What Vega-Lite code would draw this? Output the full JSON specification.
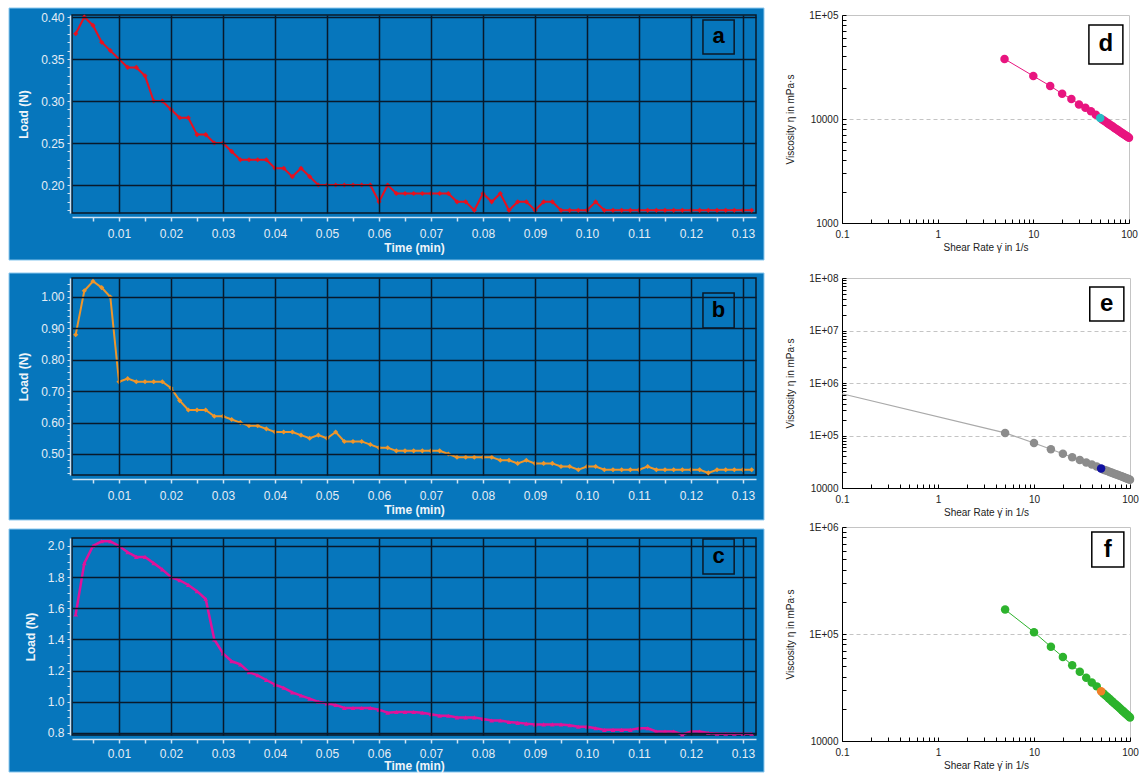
{
"$schema": "https://vega.github.io/schema/vega-lite/v6.json",
"autosize": {"type": "pad"},
"padding": {"left": 8, "top": 7, "right": 0, "bottom": 0},
"background": "white",
"config": {"font": "Liberation Sans", "view": {"stroke": null}, "axis": {"tickCount": 200}},
"datasets": {
"load": [
{"t":0.00167,"a":0.38,"b":0.88,"c":1.56},{"t":0.00333,"a":0.40,"b":1.02,"c":1.89},{"t":0.005,"a":0.39,"b":1.05,"c":2.00},{"t":0.00667,"a":0.37,"b":1.03,"c":2.03},{"t":0.00833,"a":0.36,"b":1.00,"c":2.03},{"t":0.01,"a":0.35,"b":0.73,"c":2.00},{"t":0.01167,"a":0.34,"b":0.74,"c":1.96},{"t":0.01333,"a":0.34,"b":0.73,"c":1.93},{"t":0.015,"a":0.33,"b":0.73,"c":1.93},{"t":0.01667,"a":0.30,"b":0.73,"c":1.89},
{"t":0.01833,"a":0.30,"b":0.73,"c":1.85},{"t":0.02,"a":0.29,"b":0.71,"c":1.80},{"t":0.02167,"a":0.28,"b":0.67,"c":1.78},{"t":0.02333,"a":0.28,"b":0.64,"c":1.75},{"t":0.025,"a":0.26,"b":0.64,"c":1.71},{"t":0.02667,"a":0.26,"b":0.64,"c":1.66},{"t":0.02833,"a":0.25,"b":0.62,"c":1.40},{"t":0.03,"a":0.25,"b":0.62,"c":1.31},{"t":0.03167,"a":0.24,"b":0.61,"c":1.26},{"t":0.03333,"a":0.23,"b":0.60,"c":1.24},
{"t":0.035,"a":0.23,"b":0.59,"c":1.19},{"t":0.03667,"a":0.23,"b":0.59,"c":1.17},{"t":0.03833,"a":0.23,"b":0.58,"c":1.14},{"t":0.04,"a":0.22,"b":0.57,"c":1.11},{"t":0.04167,"a":0.22,"b":0.57,"c":1.09},{"t":0.04333,"a":0.21,"b":0.57,"c":1.06},{"t":0.045,"a":0.22,"b":0.56,"c":1.04},{"t":0.04667,"a":0.21,"b":0.55,"c":1.02},{"t":0.04833,"a":0.20,"b":0.56,"c":1.00},{"t":0.05,"a":0.20,"b":0.55,"c":0.99},
{"t":0.05167,"a":0.20,"b":0.57,"c":0.98},{"t":0.05333,"a":0.20,"b":0.54,"c":0.96},{"t":0.055,"a":0.20,"b":0.54,"c":0.96},{"t":0.05667,"a":0.20,"b":0.54,"c":0.96},{"t":0.05833,"a":0.20,"b":0.53,"c":0.96},{"t":0.06,"a":0.18,"b":0.52,"c":0.95},{"t":0.06167,"a":0.20,"b":0.52,"c":0.93},{"t":0.06333,"a":0.19,"b":0.51,"c":0.935},{"t":0.065,"a":0.19,"b":0.51,"c":0.935},{"t":0.06667,"a":0.19,"b":0.51,"c":0.935},
{"t":0.06833,"a":0.19,"b":0.51,"c":0.93},{"t":0.07,"a":0.19,"b":0.51,"c":0.92},{"t":0.07167,"a":0.19,"b":0.51,"c":0.91},{"t":0.07333,"a":0.19,"b":0.50,"c":0.91},{"t":0.075,"a":0.18,"b":0.49,"c":0.90},{"t":0.07667,"a":0.18,"b":0.49,"c":0.90},{"t":0.07833,"a":0.17,"b":0.49,"c":0.90},{"t":0.08,"a":0.19,"b":0.49,"c":0.89},{"t":0.08167,"a":0.18,"b":0.49,"c":0.88},{"t":0.08333,"a":0.19,"b":0.48,"c":0.88},
{"t":0.085,"a":0.17,"b":0.48,"c":0.87},{"t":0.08667,"a":0.18,"b":0.47,"c":0.865},{"t":0.08833,"a":0.18,"b":0.48,"c":0.86},{"t":0.09,"a":0.17,"b":0.47,"c":0.855},{"t":0.09167,"a":0.18,"b":0.47,"c":0.855},{"t":0.09333,"a":0.18,"b":0.47,"c":0.855},{"t":0.095,"a":0.17,"b":0.46,"c":0.855},{"t":0.09667,"a":0.17,"b":0.46,"c":0.85},{"t":0.09833,"a":0.17,"b":0.45,"c":0.84},{"t":0.1,"a":0.17,"b":0.46,"c":0.84},
{"t":0.10167,"a":0.18,"b":0.46,"c":0.83},{"t":0.10333,"a":0.17,"b":0.45,"c":0.82},{"t":0.105,"a":0.17,"b":0.45,"c":0.82},{"t":0.10667,"a":0.17,"b":0.45,"c":0.82},{"t":0.10833,"a":0.17,"b":0.45,"c":0.82},{"t":0.11,"a":0.17,"b":0.45,"c":0.83},{"t":0.11167,"a":0.17,"b":0.46,"c":0.83},{"t":0.11333,"a":0.17,"b":0.45,"c":0.81},{"t":0.115,"a":0.17,"b":0.45,"c":0.81},{"t":0.11667,"a":0.17,"b":0.45,"c":0.81},
{"t":0.11833,"a":0.17,"b":0.45,"c":0.79},{"t":0.12,"a":0.17,"b":0.45,"c":0.81},{"t":0.12167,"a":0.17,"b":0.45,"c":0.81},{"t":0.12333,"a":0.17,"b":0.44,"c":0.80},{"t":0.125,"a":0.17,"b":0.45,"c":0.795},{"t":0.12667,"a":0.17,"b":0.45,"c":0.795},{"t":0.12833,"a":0.17,"b":0.45,"c":0.795},{"t":0.13,"a":0.17,"b":0.45,"c":0.795},{"t":0.13167,"a":0.17,"b":0.45,"c":0.795}
],
"viscD": [
{"rate":5,"eta":37800,"kind":"pt"},{"rate":10,"eta":25900,"kind":"pt"},{"rate":15,"eta":20800,"kind":"pt"},{"rate":20,"eta":17500,"kind":"pt"},{"rate":25,"eta":15600,"kind":"pt"},{"rate":30,"eta":13800,"kind":"pt"},{"rate":35,"eta":12800,"kind":"pt"},{"rate":40,"eta":11900,"kind":"pt"},{"rate":45,"eta":11000,"kind":"pt"},{"rate":50,"eta":10200,"kind":"hl"},
{"rate":52.5,"eta":9892,"kind":"pt"},{"rate":55,"eta":9607,"kind":"pt"},{"rate":57.5,"eta":9343,"kind":"pt"},{"rate":60,"eta":9096,"kind":"pt"},{"rate":62.5,"eta":8866,"kind":"pt"},{"rate":65,"eta":8651,"kind":"pt"},{"rate":67.5,"eta":8448,"kind":"pt"},{"rate":70,"eta":8257,"kind":"pt"},{"rate":72.5,"eta":8077,"kind":"pt"},{"rate":75,"eta":7907,"kind":"pt"},
{"rate":77.5,"eta":7746,"kind":"pt"},{"rate":80,"eta":7593,"kind":"pt"},{"rate":82.5,"eta":7448,"kind":"pt"},{"rate":85,"eta":7309,"kind":"pt"},{"rate":87.5,"eta":7177,"kind":"pt"},{"rate":90,"eta":7052,"kind":"pt"},{"rate":92.5,"eta":6931,"kind":"pt"},{"rate":95,"eta":6816,"kind":"pt"},{"rate":97.5,"eta":6706,"kind":"pt"},{"rate":100,"eta":6600,"kind":"pt"}
],
"viscE": [
{"rate":0.1,"eta":625000,"kind":"fit"},
{"rate":5,"eta":112000,"kind":"pt"},{"rate":10,"eta":72000,"kind":"pt"},{"rate":15,"eta":54600,"kind":"pt"},{"rate":20,"eta":45000,"kind":"pt"},{"rate":25,"eta":38400,"kind":"pt"},{"rate":30,"eta":34000,"kind":"pt"},{"rate":35,"eta":30600,"kind":"pt"},{"rate":40,"eta":28000,"kind":"pt"},{"rate":45,"eta":25600,"kind":"pt"},{"rate":50,"eta":23400,"kind":"hl"},
{"rate":52.5,"eta":22614,"kind":"pt"},{"rate":55,"eta":21890,"kind":"pt"},{"rate":57.5,"eta":21219,"kind":"pt"},{"rate":60,"eta":20596,"kind":"pt"},{"rate":62.5,"eta":20016,"kind":"pt"},{"rate":65,"eta":19474,"kind":"pt"},{"rate":67.5,"eta":18966,"kind":"pt"},{"rate":70,"eta":18489,"kind":"pt"},{"rate":72.5,"eta":18041,"kind":"pt"},{"rate":75,"eta":17618,"kind":"pt"},
{"rate":77.5,"eta":17218,"kind":"pt"},{"rate":80,"eta":16839,"kind":"pt"},{"rate":82.5,"eta":16480,"kind":"pt"},{"rate":85,"eta":16140,"kind":"pt"},{"rate":87.5,"eta":15816,"kind":"pt"},{"rate":90,"eta":15507,"kind":"pt"},{"rate":92.5,"eta":15212,"kind":"pt"},{"rate":95,"eta":14931,"kind":"pt"},{"rate":97.5,"eta":14662,"kind":"pt"},{"rate":100,"eta":14404,"kind":"pt"}
],
"viscF": [
{"rate":5,"eta":169000,"kind":"pt"},{"rate":10,"eta":104000,"kind":"pt"},{"rate":15,"eta":76000,"kind":"pt"},{"rate":20,"eta":61000,"kind":"pt"},{"rate":25,"eta":51000,"kind":"pt"},{"rate":30,"eta":44400,"kind":"pt"},{"rate":35,"eta":39000,"kind":"pt"},{"rate":40,"eta":35300,"kind":"pt"},{"rate":45,"eta":32400,"kind":"pt"},{"rate":50,"eta":29100,"kind":"hl"},
{"rate":52.5,"eta":27972,"kind":"pt"},{"rate":55,"eta":26938,"kind":"pt"},{"rate":57.5,"eta":25985,"kind":"pt"},{"rate":60,"eta":25105,"kind":"pt"},{"rate":62.5,"eta":24288,"kind":"pt"},{"rate":65,"eta":23529,"kind":"pt"},{"rate":67.5,"eta":22820,"kind":"pt"},{"rate":70,"eta":22158,"kind":"pt"},{"rate":72.5,"eta":21537,"kind":"pt"},{"rate":75,"eta":20954,"kind":"pt"},
{"rate":77.5,"eta":20405,"kind":"pt"},{"rate":80,"eta":19887,"kind":"pt"},{"rate":82.5,"eta":19397,"kind":"pt"},{"rate":85,"eta":18933,"kind":"pt"},{"rate":87.5,"eta":18494,"kind":"pt"},{"rate":90,"eta":18076,"kind":"pt"},{"rate":92.5,"eta":17680,"kind":"pt"},{"rate":95,"eta":17302,"kind":"pt"},{"rate":97.5,"eta":16942,"kind":"pt"},{"rate":100,"eta":16598,"kind":"pt"}
]
},
"hconcat": [
{
"spacing": 11,
"vconcat": [
{
"width": 684, "height": 198,
"layer": [
{"data": {"values": [{}]}, "mark": {"type": "rect", "fill": "#0676bc", "stroke": "#8cc8ee", "strokeWidth": 1},
 "encoding": {"x": {"datum": -0.01115, "type": "quantitative", "scale": {"domain": [0.00096, 0.1325], "nice": false, "zero": false}}, "x2": {"datum": 0.13404},
  "y": {"datum": 0.41071, "type": "quantitative", "scale": {"domain": [0.1667, 0.4024], "nice": false, "zero": false}}, "y2": {"datum": 0.11071}}},
{"data": {"values": [{}]}, "mark": {"type": "rect", "filled": false, "stroke": "#0b1826", "strokeWidth": 1.5},
 "encoding": {"x": {"datum": 0.00096, "type": "quantitative"}, "x2": {"datum": 0.1325}, "y": {"datum": 0.4024, "type": "quantitative"}, "y2": {"datum": 0.1667}}},
{"data": {"values": [{}]}, "mark": {"type": "rect", "filled": false, "stroke": "#0b1826", "strokeWidth": 1.5},
 "encoding": {"x": {"datum": 0.1223, "type": "quantitative"}, "x2": {"datum": 0.1283}, "y": {"datum": 0.3964, "type": "quantitative"}, "y2": {"datum": 0.356}}},
{"data": {"values": [{}]}, "mark": {"type": "text", "text": "a", "font": "Liberation Sans", "fontSize": 22, "fontWeight": "bold", "color": "#000000", "align": "center", "baseline": "middle"},
 "encoding": {"x": {"datum": 0.1253, "type": "quantitative"}, "y": {"datum": 0.377, "type": "quantitative"}}},
{"data": {"name": "load"}, "mark": {"type": "line", "color": "#e8101e", "strokeWidth": 2, "point": {"shape": "diamond", "size": 26, "filled": true, "color": "#e8101e"}},
 "encoding": {
  "x": {"field": "t", "type": "quantitative", "scale": {"domain": [0.00096, 0.1325], "nice": false, "zero": false},
   "axis": {"values": [0.005,0.01,0.015,0.02,0.025,0.03,0.035,0.04,0.045,0.05,0.055,0.06,0.065,0.07,0.075,0.08,0.085,0.09,0.095,0.1,0.105,0.11,0.115,0.12,0.125,0.13], "tickCount": 200,
    "labelExpr": "abs(datum.value*100-round(datum.value*100))<1e-6 ? format(datum.value,'.2f') : ''",
    "grid": true, "gridColor": "#08192b", "gridWidth": 1.5,
    "gridOpacity": {"condition": {"test": "abs(datum.value*100-round(datum.value*100))<1e-6", "value": 1}, "value": 0},
    "offset": 4, "domainColor": "#cfe3f3", "domainWidth": 1.5, "tickColor": "#cfe3f3", "tickWidth": 1.5, "tickSize": 4,
    "labelColor": "#e4edf5", "labelFont": "Liberation Sans", "labelFontSize": 12, "labelPadding": 7, "labelOverlap": false, "labelFlush": false,
    "title": "Time (min)", "titleColor": "#eef4f9", "titleFont": "Liberation Sans", "titleFontSize": 12, "titleFontWeight": "bold", "titlePadding": 3, "zindex": 1}},
  "y": {"field": "a", "type": "quantitative", "scale": {"domain": [0.1667, 0.4024], "nice": false, "zero": false},
   "axis": {"values": [0.17,0.18,0.19,0.2,0.21,0.22,0.23,0.24,0.25,0.26,0.27,0.28,0.29,0.3,0.31,0.32,0.33,0.34,0.35,0.36,0.37,0.38,0.39,0.4], "tickCount": 200,
    "labelExpr": "abs(datum.value*20-round(datum.value*20))<1e-6 ? format(datum.value,'.2f') : ''",
    "grid": true, "gridColor": "#08192b", "gridWidth": 1.5,
    "gridOpacity": {"condition": {"test": "abs(datum.value*20-round(datum.value*20))<1e-6", "value": 1}, "value": 0},
    "offset": 2, "domainColor": "#cfe3f3", "domainWidth": 1.5, "tickColor": "#cfe3f3", "tickWidth": 1, "tickSize": 3,
    "labelColor": "#e4edf5", "labelFont": "Liberation Sans", "labelFontSize": 12, "labelPadding": 3, "labelOverlap": false, "labelFlush": false,
    "title": "Load (N)", "titleColor": "#eef4f9", "titleFont": "Liberation Sans", "titleFontSize": 12, "titleFontWeight": "bold", "titlePadding": 10, "zindex": 1}}
 }}
]
},
{
"spacing": 7,
"vconcat": [
{
"width": 684, "height": 197,
"layer": [
{"data": {"values": [{}]}, "mark": {"type": "rect", "fill": "#0676bc", "stroke": "#8cc8ee", "strokeWidth": 1},
 "encoding": {"x": {"datum": -0.01115, "type": "quantitative", "scale": {"domain": [0.00096, 0.1325], "nice": false, "zero": false}}, "x2": {"datum": 0.13404},
  "y": {"datum": 1.0764, "type": "quantitative", "scale": {"domain": [0.4331, 1.0605], "nice": false, "zero": false}}, "y2": {"datum": 0.2898}}},
{"data": {"values": [{}]}, "mark": {"type": "rect", "filled": false, "stroke": "#0b1826", "strokeWidth": 1.5},
 "encoding": {"x": {"datum": 0.00096, "type": "quantitative"}, "x2": {"datum": 0.1325}, "y": {"datum": 1.0605, "type": "quantitative"}, "y2": {"datum": 0.4331}}},
{"data": {"values": [{}]}, "mark": {"type": "rect", "filled": false, "stroke": "#0b1826", "strokeWidth": 1.5},
 "encoding": {"x": {"datum": 0.1223, "type": "quantitative"}, "x2": {"datum": 0.1283}, "y": {"datum": 1.0127, "type": "quantitative"}, "y2": {"datum": 0.901}}},
{"data": {"values": [{}]}, "mark": {"type": "text", "text": "b", "font": "Liberation Sans", "fontSize": 22, "fontWeight": "bold", "color": "#000000", "align": "center", "baseline": "middle"},
 "encoding": {"x": {"datum": 0.1253, "type": "quantitative"}, "y": {"datum": 0.957, "type": "quantitative"}}},
{"data": {"name": "load"}, "mark": {"type": "line", "color": "#f0962a", "strokeWidth": 2, "point": {"shape": "diamond", "size": 26, "filled": true, "color": "#f0962a"}},
 "encoding": {
  "x": {"field": "t", "type": "quantitative", "scale": {"domain": [0.00096, 0.1325], "nice": false, "zero": false},
   "axis": {"values": [0.005,0.01,0.015,0.02,0.025,0.03,0.035,0.04,0.045,0.05,0.055,0.06,0.065,0.07,0.075,0.08,0.085,0.09,0.095,0.1,0.105,0.11,0.115,0.12,0.125,0.13], "tickCount": 200,
    "labelExpr": "abs(datum.value*100-round(datum.value*100))<1e-6 ? format(datum.value,'.2f') : ''",
    "grid": true, "gridColor": "#08192b", "gridWidth": 1.5,
    "gridOpacity": {"condition": {"test": "abs(datum.value*100-round(datum.value*100))<1e-6", "value": 1}, "value": 0},
    "offset": 4, "domainColor": "#cfe3f3", "domainWidth": 1.5, "tickColor": "#cfe3f3", "tickWidth": 1.5, "tickSize": 4,
    "labelColor": "#e4edf5", "labelFont": "Liberation Sans", "labelFontSize": 12, "labelPadding": 7, "labelOverlap": false, "labelFlush": false,
    "title": "Time (min)", "titleColor": "#eef4f9", "titleFont": "Liberation Sans", "titleFontSize": 12, "titleFontWeight": "bold", "titlePadding": 3, "zindex": 1}},
  "y": {"field": "b", "type": "quantitative", "scale": {"domain": [0.4331, 1.0605], "nice": false, "zero": false},
   "axis": {"values": [0.44,0.46,0.48,0.5,0.52,0.54,0.56,0.58,0.6,0.62,0.64,0.66,0.68,0.7,0.72,0.74,0.76,0.78,0.8,0.82,0.84,0.86,0.88,0.9,0.92,0.94,0.96,0.98,1.0,1.02,1.04], "tickCount": 200,
    "labelExpr": "abs(datum.value*10-round(datum.value*10))<1e-6 ? format(datum.value,'.2f') : ''",
    "grid": true, "gridColor": "#08192b", "gridWidth": 1.5,
    "gridOpacity": {"condition": {"test": "abs(datum.value*10-round(datum.value*10))<1e-6", "value": 1}, "value": 0},
    "offset": 2, "domainColor": "#cfe3f3", "domainWidth": 1.5, "tickColor": "#cfe3f3", "tickWidth": 1, "tickSize": 3,
    "labelColor": "#e4edf5", "labelFont": "Liberation Sans", "labelFontSize": 12, "labelPadding": 3, "labelOverlap": false, "labelFlush": false,
    "title": "Load (N)", "titleColor": "#eef4f9", "titleFont": "Liberation Sans", "titleFontSize": 12, "titleFontWeight": "bold", "titlePadding": 10, "zindex": 1}}
 }}
]
},
{
"width": 684, "height": 197,
"layer": [
{"data": {"values": [{}]}, "mark": {"type": "rect", "fill": "#0676bc", "stroke": "#8cc8ee", "strokeWidth": 1},
 "encoding": {"x": {"datum": -0.01115, "type": "quantitative", "scale": {"domain": [0.00096, 0.1325], "nice": false, "zero": false}}, "x2": {"datum": 0.13404},
  "y": {"datum": 2.109, "type": "quantitative", "scale": {"domain": [0.787, 2.0513], "nice": false, "zero": false}}, "y2": {"datum": 0.5494}}},
{"data": {"values": [{}]}, "mark": {"type": "rect", "filled": false, "stroke": "#0b1826", "strokeWidth": 1.5},
 "encoding": {"x": {"datum": 0.00096, "type": "quantitative"}, "x2": {"datum": 0.1325}, "y": {"datum": 2.0513, "type": "quantitative"}, "y2": {"datum": 0.787}}},
{"data": {"values": [{}]}, "mark": {"type": "rect", "filled": false, "stroke": "#0b1826", "strokeWidth": 1.5},
 "encoding": {"x": {"datum": 0.1223, "type": "quantitative"}, "x2": {"datum": 0.1283}, "y": {"datum": 2.045, "type": "quantitative"}, "y2": {"datum": 1.82}}},
{"data": {"values": [{}]}, "mark": {"type": "text", "text": "c", "font": "Liberation Sans", "fontSize": 22, "fontWeight": "bold", "color": "#000000", "align": "center", "baseline": "middle"},
 "encoding": {"x": {"datum": 0.1253, "type": "quantitative"}, "y": {"datum": 1.935, "type": "quantitative"}}},
{"data": {"name": "load"}, "mark": {"type": "line", "color": "#e0129a", "strokeWidth": 2.5, "point": {"shape": "triangle-up", "size": 22, "filled": true, "color": "#e0129a"}},
 "encoding": {
  "x": {"field": "t", "type": "quantitative", "scale": {"domain": [0.00096, 0.1325], "nice": false, "zero": false},
   "axis": {"values": [0.005,0.01,0.015,0.02,0.025,0.03,0.035,0.04,0.045,0.05,0.055,0.06,0.065,0.07,0.075,0.08,0.085,0.09,0.095,0.1,0.105,0.11,0.115,0.12,0.125,0.13], "tickCount": 200,
    "labelExpr": "abs(datum.value*100-round(datum.value*100))<1e-6 ? format(datum.value,'.2f') : ''",
    "grid": true, "gridColor": "#08192b", "gridWidth": 1.5,
    "gridOpacity": {"condition": {"test": "abs(datum.value*100-round(datum.value*100))<1e-6", "value": 1}, "value": 0},
    "offset": 4, "domainColor": "#cfe3f3", "domainWidth": 1.5, "tickColor": "#cfe3f3", "tickWidth": 1.5, "tickSize": 4,
    "labelColor": "#e4edf5", "labelFont": "Liberation Sans", "labelFontSize": 12, "labelPadding": 5, "labelOverlap": false, "labelFlush": false,
    "title": "Time (min)", "titleColor": "#eef4f9", "titleFont": "Liberation Sans", "titleFontSize": 12, "titleFontWeight": "bold", "titlePadding": 1, "zindex": 1}},
  "y": {"field": "c", "type": "quantitative", "scale": {"domain": [0.787, 2.0513], "nice": false, "zero": false},
   "axis": {"values": [0.8,0.85,0.9,0.95,1.0,1.05,1.1,1.15,1.2,1.25,1.3,1.35,1.4,1.45,1.5,1.55,1.6,1.65,1.7,1.75,1.8,1.85,1.9,1.95,2.0], "tickCount": 200,
    "labelExpr": "abs(datum.value*5-round(datum.value*5))<1e-6 ? format(datum.value,'.1f') : ''",
    "grid": true, "gridColor": "#08192b", "gridWidth": 1.5,
    "gridOpacity": {"condition": {"test": "abs(datum.value*5-round(datum.value*5))<1e-6", "value": 1}, "value": 0},
    "offset": 2, "domainColor": "#cfe3f3", "domainWidth": 1.5, "tickColor": "#cfe3f3", "tickWidth": 1, "tickSize": 3,
    "labelColor": "#e4edf5", "labelFont": "Liberation Sans", "labelFontSize": 12, "labelPadding": 3, "labelOverlap": false, "labelFlush": false,
    "title": "Load (N)", "titleColor": "#eef4f9", "titleFont": "Liberation Sans", "titleFontSize": 12, "titleFontWeight": "bold", "titlePadding": 10, "zindex": 1}}
 }}
]
}
]
}
]
},
{
"spacing": 19,
"vconcat": [
{
"width": 287, "height": 208,
"view": {"stroke": "#c4c4c4"},
"layer": [
{"data": {"name": "viscD"}, "mark": {"type": "line", "color": "#e8157f", "strokeWidth": 1},
 "encoding": {
  "x": {"field": "rate", "type": "quantitative", "scale": {"type": "log", "domain": [0.1, 100], "nice": false},
   "axis": {"values": [0.1,0.2,0.3,0.4,0.5,0.6,0.7,0.8,0.9,1,2,3,4,5,6,7,8,9,10,20,30,40,50,60,70,80,90,100], "tickCount": 200,
    "labelExpr": "abs(log(datum.value)/LN10-round(log(datum.value)/LN10))<1e-6 ? format(datum.value,'~g') : ''",
    "grid": false, "tickSize": -4, "tickColor": "#000", "domainColor": "#000", "labelPadding": 10, "labelColor": "#222", "labelFont": "Liberation Sans", "labelFontSize": 10, "labelOverlap": false, "labelFlush": false,
    "title": "Shear Rate γ̇  in 1/s", "titleColor": "#222", "titleFont": "Liberation Sans", "titleFontSize": 10, "titleFontWeight": "normal", "titlePadding": 3}},
  "y": {"field": "eta", "type": "quantitative", "scale": {"type": "log", "domain": [1000, 100000], "nice": false},
   "axis": {"values": [1000,2000,3000,4000,5000,6000,7000,8000,9000,10000,20000,30000,40000,50000,60000,70000,80000,90000,100000], "tickCount": 200,
    "labelExpr": "abs(log(datum.value)/LN10-round(log(datum.value)/LN10))<1e-6 ? (datum.value >= 100000 ? '1E+0' + round(log(datum.value)/LN10) : format(datum.value,'d')) : ''",
    "grid": true, "gridDash": [4, 3], "gridColor": "#c4c4c4",
    "gridOpacity": {"condition": {"test": "datum.value == 10000", "value": 1}, "value": 0},
    "tickSize": -4, "tickColor": "#000", "domainColor": "#000", "labelPadding": 8, "labelColor": "#222", "labelFont": "Liberation Sans", "labelFontSize": 10, "labelOverlap": false, "labelFlush": false,
    "title": "Viscosity η  in mPa·s", "titleColor": "#222", "titleFont": "Liberation Sans", "titleFontSize": 10, "titleFontWeight": "normal", "titlePadding": 13}}
 }},
{"data": {"name": "viscD"}, "transform": [{"filter": "datum.kind == 'pt'"}], "mark": {"type": "circle", "size": 72, "color": "#e8157f", "opacity": 1},
 "encoding": {"x": {"field": "rate", "type": "quantitative", "scale": {"type": "log", "domain": [0.1, 100], "nice": false}}, "y": {"field": "eta", "type": "quantitative", "scale": {"type": "log", "domain": [1000, 100000], "nice": false}}}},
{"data": {"name": "viscD"}, "transform": [{"filter": "datum.kind == 'hl'"}], "mark": {"type": "circle", "size": 72, "color": "#26bcc4", "opacity": 1},
 "encoding": {"x": {"field": "rate", "type": "quantitative"}, "y": {"field": "eta", "type": "quantitative"}}},
{"data": {"values": [{}]}, "mark": {"type": "rect", "fill": "#ffffff", "stroke": "#000000", "strokeWidth": 1.5},
 "encoding": {"x": {"datum": 38.1, "type": "quantitative"}, "x2": {"datum": 86.3}, "y": {"datum": 80100, "type": "quantitative"}, "y2": {"datum": 33800}}},
{"data": {"values": [{}]}, "mark": {"type": "text", "text": "d", "font": "Liberation Sans", "fontSize": 24, "fontWeight": "bold", "color": "#000000", "align": "center", "baseline": "middle"},
 "encoding": {"x": {"datum": 57.3, "type": "quantitative"}, "y": {"datum": 52500, "type": "quantitative"}}}
]
},
{
"spacing": 3,
"vconcat": [
{
"width": 288, "height": 210,
"view": {"stroke": "#c4c4c4"},
"layer": [
{"data": {"name": "viscE"}, "mark": {"type": "line", "color": "#a9a9a9", "strokeWidth": 1.2},
 "encoding": {
  "x": {"field": "rate", "type": "quantitative", "scale": {"type": "log", "domain": [0.1, 100], "nice": false},
   "axis": {"values": [0.1,0.2,0.3,0.4,0.5,0.6,0.7,0.8,0.9,1,2,3,4,5,6,7,8,9,10,20,30,40,50,60,70,80,90,100], "tickCount": 200,
    "labelExpr": "abs(log(datum.value)/LN10-round(log(datum.value)/LN10))<1e-6 ? format(datum.value,'~g') : ''",
    "grid": false, "tickSize": -4, "tickColor": "#000", "domainColor": "#000", "labelPadding": 10, "labelColor": "#222", "labelFont": "Liberation Sans", "labelFontSize": 10, "labelOverlap": false, "labelFlush": false,
    "title": "Shear Rate γ̇  in 1/s", "titleColor": "#222", "titleFont": "Liberation Sans", "titleFontSize": 10, "titleFontWeight": "normal", "titlePadding": 3}},
  "y": {"field": "eta", "type": "quantitative", "scale": {"type": "log", "domain": [10000, 100000000], "nice": false},
   "axis": {"values": [10000,20000,30000,40000,50000,60000,70000,80000,90000,100000,200000,300000,400000,500000,600000,700000,800000,900000,1000000,2000000,3000000,4000000,5000000,6000000,7000000,8000000,9000000,10000000,20000000,30000000,40000000,50000000,60000000,70000000,80000000,90000000,100000000], "tickCount": 200,
    "labelExpr": "abs(log(datum.value)/LN10-round(log(datum.value)/LN10))<1e-6 ? (datum.value >= 100000 ? '1E+0' + round(log(datum.value)/LN10) : format(datum.value,'d')) : ''",
    "grid": true, "gridDash": [4, 3], "gridColor": "#c4c4c4",
    "gridOpacity": {"condition": {"test": "datum.value == 100000 || datum.value == 1000000 || datum.value == 10000000", "value": 1}, "value": 0},
    "tickSize": -4, "tickColor": "#000", "domainColor": "#000", "labelPadding": 8, "labelColor": "#222", "labelFont": "Liberation Sans", "labelFontSize": 10, "labelOverlap": false, "labelFlush": false,
    "title": "Viscosity η  in mPa·s", "titleColor": "#222", "titleFont": "Liberation Sans", "titleFontSize": 10, "titleFontWeight": "normal", "titlePadding": 13}}
 }},
{"data": {"name": "viscE"}, "transform": [{"filter": "datum.kind == 'pt'"}], "mark": {"type": "circle", "size": 72, "color": "#8c8c8c", "opacity": 1},
 "encoding": {"x": {"field": "rate", "type": "quantitative"}, "y": {"field": "eta", "type": "quantitative"}}},
{"data": {"name": "viscE"}, "transform": [{"filter": "datum.kind == 'hl'"}], "mark": {"type": "circle", "size": 72, "color": "#1010a0", "opacity": 1},
 "encoding": {"x": {"field": "rate", "type": "quantitative"}, "y": {"field": "eta", "type": "quantitative"}}},
{"data": {"values": [{}]}, "mark": {"type": "rect", "fill": "#ffffff", "stroke": "#000000", "strokeWidth": 1.5},
 "encoding": {"x": {"datum": 38.1, "type": "quantitative"}, "x2": {"datum": 86.3}, "y": {"datum": 67400000, "type": "quantitative"}, "y2": {"datum": 15200000}}},
{"data": {"values": [{}]}, "mark": {"type": "text", "text": "e", "font": "Liberation Sans", "fontSize": 24, "fontWeight": "bold", "color": "#000000", "align": "center", "baseline": "middle"},
 "encoding": {"x": {"datum": 57.3, "type": "quantitative"}, "y": {"datum": 32000000, "type": "quantitative"}}}
]
},
{
"width": 288, "height": 214,
"view": {"stroke": "#c4c4c4"},
"layer": [
{"data": {"name": "viscF"}, "mark": {"type": "line", "color": "#2db32d", "strokeWidth": 1},
 "encoding": {
  "x": {"field": "rate", "type": "quantitative", "scale": {"type": "log", "domain": [0.1, 100], "nice": false},
   "axis": {"values": [0.1,0.2,0.3,0.4,0.5,0.6,0.7,0.8,0.9,1,2,3,4,5,6,7,8,9,10,20,30,40,50,60,70,80,90,100], "tickCount": 200,
    "labelExpr": "abs(log(datum.value)/LN10-round(log(datum.value)/LN10))<1e-6 ? format(datum.value,'~g') : ''",
    "grid": false, "tickSize": -4, "tickColor": "#000", "domainColor": "#000", "labelPadding": 10, "labelColor": "#222", "labelFont": "Liberation Sans", "labelFontSize": 10, "labelOverlap": false, "labelFlush": false,
    "title": "Shear Rate γ̇  in 1/s", "titleColor": "#222", "titleFont": "Liberation Sans", "titleFontSize": 10, "titleFontWeight": "normal", "titlePadding": 3}},
  "y": {"field": "eta", "type": "quantitative", "scale": {"type": "log", "domain": [10000, 1000000], "nice": false},
   "axis": {"values": [10000,20000,30000,40000,50000,60000,70000,80000,90000,100000,200000,300000,400000,500000,600000,700000,800000,900000,1000000], "tickCount": 200,
    "labelExpr": "abs(log(datum.value)/LN10-round(log(datum.value)/LN10))<1e-6 ? (datum.value >= 100000 ? '1E+0' + round(log(datum.value)/LN10) : format(datum.value,'d')) : ''",
    "grid": true, "gridDash": [4, 3], "gridColor": "#c4c4c4",
    "gridOpacity": {"condition": {"test": "datum.value == 100000", "value": 1}, "value": 0},
    "tickSize": -4, "tickColor": "#000", "domainColor": "#000", "labelPadding": 8, "labelColor": "#222", "labelFont": "Liberation Sans", "labelFontSize": 10, "labelOverlap": false, "labelFlush": false,
    "title": "Viscosity η  in mPa·s", "titleColor": "#222", "titleFont": "Liberation Sans", "titleFontSize": 10, "titleFontWeight": "normal", "titlePadding": 13}}
 }},
{"data": {"name": "viscF"}, "transform": [{"filter": "datum.kind == 'pt'"}], "mark": {"type": "circle", "size": 72, "color": "#2db32d", "opacity": 1},
 "encoding": {"x": {"field": "rate", "type": "quantitative"}, "y": {"field": "eta", "type": "quantitative"}}},
{"data": {"name": "viscF"}, "transform": [{"filter": "datum.kind == 'hl'"}], "mark": {"type": "circle", "size": 72, "color": "#f07f27", "opacity": 1},
 "encoding": {"x": {"field": "rate", "type": "quantitative"}, "y": {"field": "eta", "type": "quantitative"}}},
{"data": {"values": [{}]}, "mark": {"type": "rect", "fill": "#ffffff", "stroke": "#000000", "strokeWidth": 1.5},
 "encoding": {"x": {"datum": 40, "type": "quantitative"}, "x2": {"datum": 86.3}, "y": {"datum": 898000, "type": "quantitative"}, "y2": {"datum": 423000}}},
{"data": {"values": [{}]}, "mark": {"type": "text", "text": "f", "font": "Liberation Sans", "fontSize": 24, "fontWeight": "bold", "color": "#000000", "align": "center", "baseline": "middle"},
 "encoding": {"x": {"datum": 58.8, "type": "quantitative"}, "y": {"datum": 616000, "type": "quantitative"}}}
]
}
]
}
]
}
]
}
